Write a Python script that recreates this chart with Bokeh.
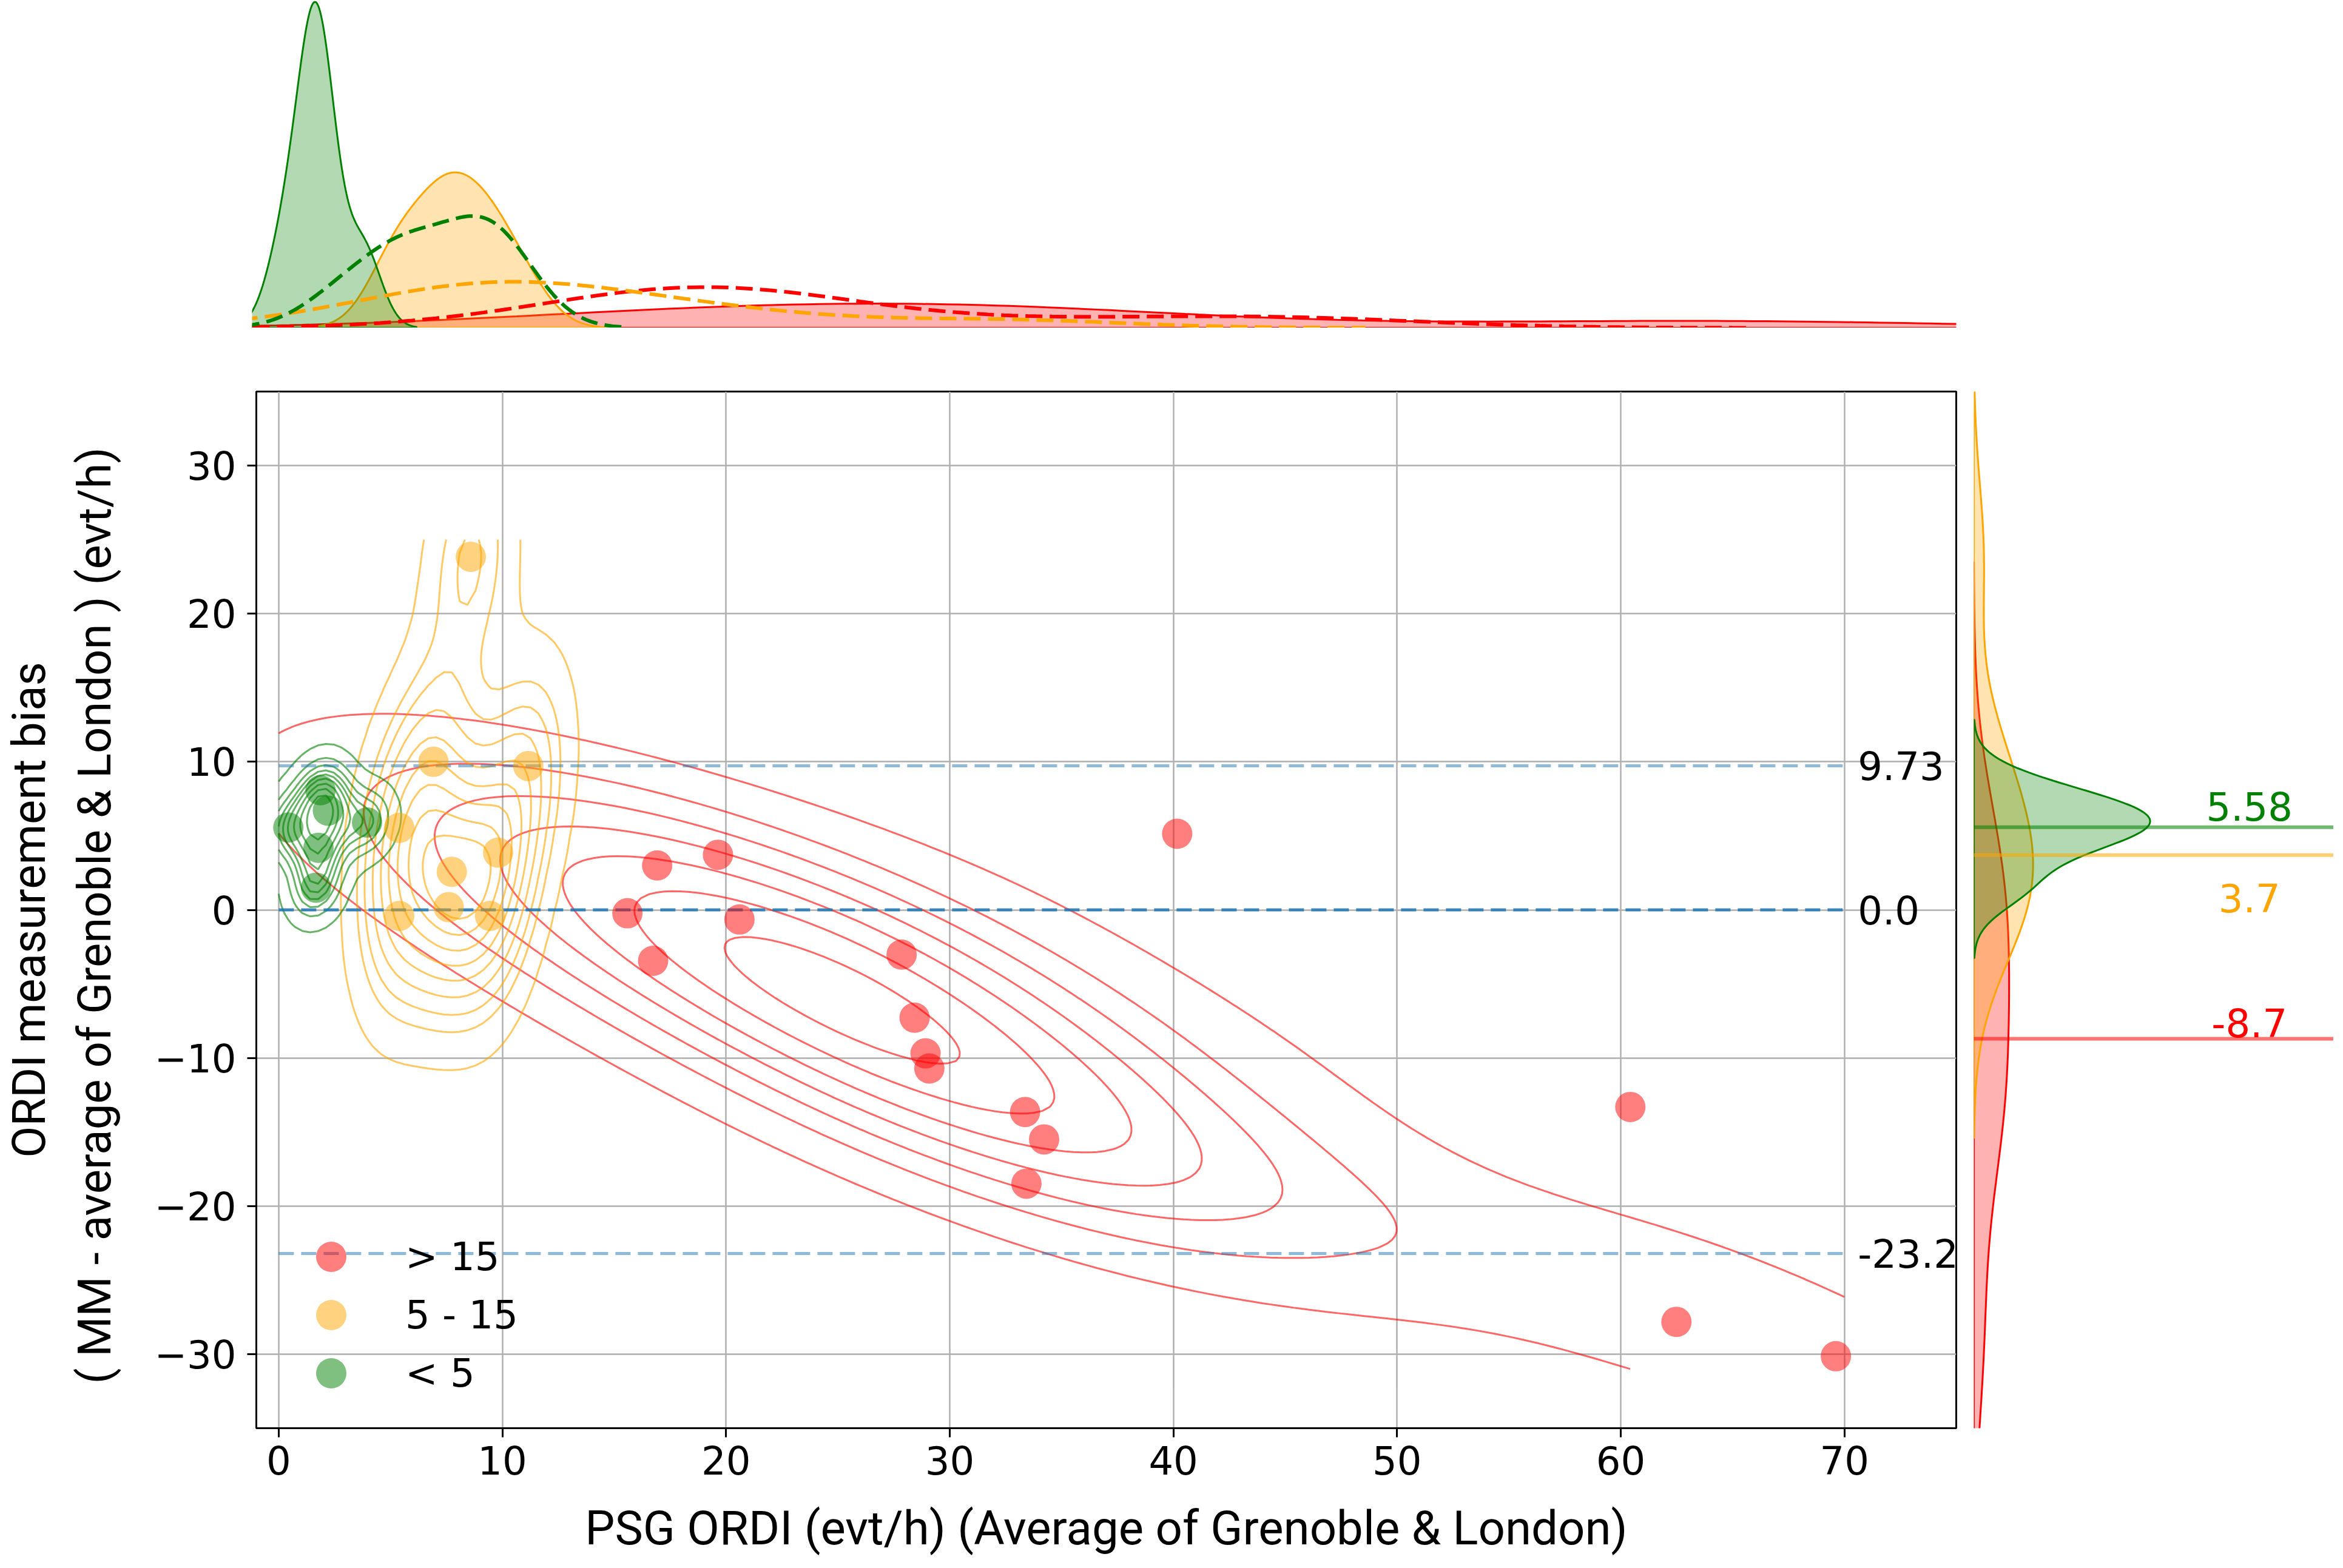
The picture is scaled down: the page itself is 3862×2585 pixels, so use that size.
import numpy as np
from bokeh.plotting import figure
from bokeh.models import ColumnDataSource, Legend, LegendItem, FixedTicker, Range1d
from bokeh.layouts import column, row
from bokeh.embed import file_html
from bokeh.resources import INLINE
from bokeh.core.properties import value

# ---------------- data ----------------
RED_X = [16.92, 19.64, 15.59, 20.60, 16.74, 27.85, 28.43, 28.92, 29.09, 33.37, 34.22, 33.43, 40.17, 60.43, 62.49, 69.62]
RED_Y = [3.00, 3.72, -0.23, -0.65, -3.44, -3.02, -7.28, -9.69, -10.71, -13.65, -15.50, -18.49, 5.14, -13.31, -27.82, -30.14]
ORANGE_X = [8.59, 6.92, 11.16, 5.39, 9.81, 7.74, 7.60, 5.39, 9.45]
ORANGE_Y = [23.84, 10.00, 9.71, 5.54, 3.86, 2.57, 0.18, -0.41, -0.41]
GREEN_X = [0.43, 1.87, 2.20, 1.78, 3.95, 1.67]
GREEN_Y = [5.56, 8.08, 6.70, 4.19, 5.90, 1.50]

GROUP_NAMES = ["> 15", "5 - 15", "< 5"]
GROUP_COLORS = ["#ff0000", "#ffa500", "#008000"]
KDE_BW_ADJUST = [1.1, 1.0, 1.0]

# points of the picture that the red density contours pass through (one level per index)
RED_ANCHOR_X = [0.0, 60.0, 3.8, 7.0, 9.9, 12.7, 15.9, 20.0]
RED_ANCHOR_Y = [11.6, -20.3, 6.5, 4.5, 3.4, 1.7, 0.0, -2.2]
RED_ANCHOR_LEVEL = [0, 0, 1, 2, 3, 4, 5, 6]

LOA_VALUES = [9.73, 0.0, -23.2]
LOA_LABELS = ["9.73", "0.0", "-23.2"]
LOA_ALPHAS = [0.5, 0.85, 0.5]

MEDIAN_VALUES = [-8.7, 3.7, 5.58]          # red, orange, green
MEDIAN_LABELS = ["-8.7", "3.7", "5.58"]

X_TICKS = [0, 10, 20, 30, 40, 50, 60, 70]
Y_TICKS = [-30, -20, -10, 0, 10, 20, 30]
KDE_X_LIMITS = [0, 70]
KDE_Y_LIMITS = [-31, 25]

X_LABEL = "PSG ORDI (evt/h) (Average of Grenoble & London)"
Y_LABEL = "ORDI measurement bias\n( MM  - average of Grenoble & London ) (evt/h)"

TICK_FONT = "DejaVu Sans"
LABEL_FONT = "Roboto"

groups = [
    dict(name=GROUP_NAMES[i], color=GROUP_COLORS[i], bw=KDE_BW_ADJUST[i], x=np.array(gx), y=np.array(gy))
    for i, (gx, gy) in enumerate([(RED_X, RED_Y), (ORANGE_X, ORANGE_Y), (GREEN_X, GREEN_Y)])
]
groups[0]["anchors"] = (np.array(RED_ANCHOR_X), np.array(RED_ANCHOR_Y), np.array(RED_ANCHOR_LEVEL))
groups[1]["anchors"] = None
groups[2]["anchors"] = None


# ---------------- kernel density estimates (Scott's rule) ----------------
def kde1d(data, cut=3, gridsize=200):
    d = np.asarray(data, float)
    n = d.size
    bw = n ** (-1 / 5) * d.std(ddof=1)
    grid = np.linspace(d.min() - cut * bw, d.max() + cut * bw, gridsize)
    dens = np.exp(-0.5 * ((grid[:, None] - d[None, :]) / bw) ** 2).sum(1) / (n * bw * np.sqrt(2 * np.pi))
    return grid, dens


def kde2d_eval(x, y, qx, qy, adjust=1.0):
    pts = np.vstack([x, y])
    n = pts.shape[1]
    cov = np.cov(pts) * (adjust * n ** (-1 / 6)) ** 2
    inv = np.linalg.inv(cov)
    dx = qx[..., None] - pts[0]
    dy = qy[..., None] - pts[1]
    q = inv[0, 0] * dx * dx + 2 * inv[0, 1] * dx * dy + inv[1, 1] * dy * dy
    return np.exp(-0.5 * q).sum(-1) / (n * 2 * np.pi * np.sqrt(np.linalg.det(cov)))


def iso_levels(Z, props):
    vals = np.ravel(Z)
    sv = np.sort(vals)[::-1]
    nv = np.cumsum(sv) / vals.sum()
    idx = np.searchsorted(nv, 1 - np.asarray(props))
    return np.take(sv, idx, mode="clip")


# ---------------- main figure ----------------
main = figure(width=3228, height=2029, x_range=Range1d(-1, 75), y_range=Range1d(-35, 35),
              output_backend="svg", toolbar_location=None,
              min_border_left=415, min_border_right=4, min_border_top=105, min_border_bottom=215)
main.background_fill_color = "white"
main.outline_line_color = "black"
main.outline_line_width = 3
main.xgrid.grid_line_color = "#b0b0b0"
main.ygrid.grid_line_color = "#b0b0b0"
main.xgrid.grid_line_width = 2.5
main.ygrid.grid_line_width = 2.5

main.xaxis.ticker = FixedTicker(ticks=X_TICKS)
main.yaxis.ticker = FixedTicker(ticks=Y_TICKS)
main.yaxis.major_label_overrides = {t: ("\u2212" + str(abs(t)) if t < 0 else str(t)) for t in Y_TICKS}
for ax in (main.xaxis[0], main.yaxis[0]):
    ax.axis_line_width = 3
    ax.axis_line_color = "black"
    ax.major_tick_line_width = 3
    ax.major_tick_out = 15
    ax.major_tick_in = 0
    ax.minor_tick_line_color = None
    ax.major_label_text_font = TICK_FONT
    ax.major_label_text_font_size = "64px"
    ax.major_label_text_color = "black"
    ax.axis_label_text_font = LABEL_FONT
    ax.axis_label_text_font_style = "normal"
    ax.axis_label_text_color = "black"
main.xaxis.axis_label = X_LABEL
main.yaxis.axis_label = Y_LABEL
main.xaxis.axis_label_text_font_size = "78px"
main.yaxis.axis_label_text_font_size = "76px"
main.xaxis.major_label_standoff = 14
main.yaxis.major_label_standoff = 18
main.xaxis.axis_label_standoff = 40
main.yaxis.axis_label_standoff = 50

# bivariate KDE contours
gx = np.linspace(KDE_X_LIMITS[0], KDE_X_LIMITS[1], 200)
gy = np.linspace(KDE_Y_LIMITS[0], KDE_Y_LIMITS[1], 200)
GX, GY = np.meshgrid(gx, gy)
for g in groups:
    Z = kde2d_eval(g["x"], g["y"], GX, GY, adjust=g["bw"])
    if g["anchors"] is None:
        lv = np.unique(iso_levels(Z, np.linspace(0.05, 1, 10)))[:-1]
    else:
        ax_, ay_, al_ = g["anchors"]
        dens_at = kde2d_eval(g["x"], g["y"], ax_, ay_, adjust=g["bw"])
        lv = np.sort([dens_at[al_ == k].mean() for k in np.unique(al_)])
    main.contour(gx, gy, Z, levels=list(lv), line_color=g["color"], line_alpha=0.6, line_width=3)

# limits of agreement
loa_src = ColumnDataSource(dict(
    x0=[KDE_X_LIMITS[0]] * len(LOA_VALUES), x1=[KDE_X_LIMITS[1]] * len(LOA_VALUES),
    y=LOA_VALUES, alpha=LOA_ALPHAS, label=LOA_LABELS,
    tx=[KDE_X_LIMITS[1] + 0.6] * len(LOA_VALUES)))
main.segment(x0="x0", y0="y", x1="x1", y1="y", source=loa_src, line_color="#1f77b4",
             line_alpha="alpha", line_width=5, line_dash="25 12")
main.text(x="tx", y="y", text="label", source=loa_src, text_font=value(TICK_FONT),
          text_font_size="64px", text_color="black", text_baseline="alphabetic", text_align="left")

# scatter points + one legend box per entry (rows 96 px apart)
for i, g in enumerate(groups):
    r = main.scatter(g["x"], g["y"], size=50, fill_color=g["color"], fill_alpha=0.5, line_color=None)
    leg = Legend(items=[LegendItem(label=g["name"], renderers=[r])],
                 location=(61, 220 - 96 * i), glyph_width=125, glyph_height=125,
                 padding=0, margin=0, label_standoff=60, label_text_font=TICK_FONT,
                 label_text_font_size="64px", label_text_color="black",
                 border_line_color=None, background_fill_alpha=0)
    main.add_layout(leg)

# ---------------- top marginal ----------------
top_curves = [(g, kde1d(g["x"]), kde1d(g["x"] + g["y"])) for g in groups]
top_max = max(c[1][1].max() for c in top_curves)
top = figure(width=3228, height=540, x_range=main.x_range, y_range=Range1d(0, top_max * 1.005),
             output_backend="svg", toolbar_location=None, x_axis_location=None, y_axis_location=None,
             min_border_left=415, min_border_right=4, min_border_top=0, min_border_bottom=0)
top.grid.visible = False
top.outline_line_color = None
for g, (gr, de), _ in top_curves:
    top.patch(np.concatenate([gr, gr[::-1]]), np.concatenate([de, np.zeros_like(de)]),
              fill_color=g["color"], fill_alpha=0.3, line_color=g["color"], line_width=3)
for g, _, (gr, de) in top_curves:
    top.line(gr, de, line_color=g["color"], line_width=6, line_dash="28 12")

# ---------------- right marginal ----------------
right_curves = [(g, kde1d(g["y"])) for g in groups]
green_peak = right_curves[2][1][1].max()
right_max = green_peak / 0.49
right = figure(width=618, height=2029, x_range=Range1d(0, right_max), y_range=main.y_range,
               output_backend="svg", toolbar_location=None, x_axis_location=None, y_axis_location=None,
               min_border_left=25, min_border_right=0, min_border_top=105, min_border_bottom=215)
right.grid.visible = False
right.outline_line_color = None
for g, (gr, de) in right_curves:
    right.patch(np.concatenate([de, np.zeros_like(de)]), np.concatenate([gr, gr[::-1]]),
                fill_color=g["color"], fill_alpha=0.3, line_color=g["color"], line_width=3)

med_src = ColumnDataSource(dict(
    x0=[0] * 3, x1=[right_max] * 3, y=MEDIAN_VALUES, label=MEDIAN_LABELS,
    color=[GROUP_COLORS[0], GROUP_COLORS[1], GROUP_COLORS[2]],
    tx=[right_max * 0.766] * 3, yoff=[-26, 71, -34]))
right.segment(x0="x0", y0="y", x1="x1", y1="y", source=med_src, line_color="color",
              line_alpha=0.55, line_width=6)
right.text(x="tx", y="y", text="label", source=med_src, text_color="color", text_font=value(TICK_FONT),
           text_font_size="64px", text_align="center", text_baseline="alphabetic", y_offset="yoff")

layout = column(top, row(main, right))
open("out.html", "w").write(file_html(layout, INLINE))
